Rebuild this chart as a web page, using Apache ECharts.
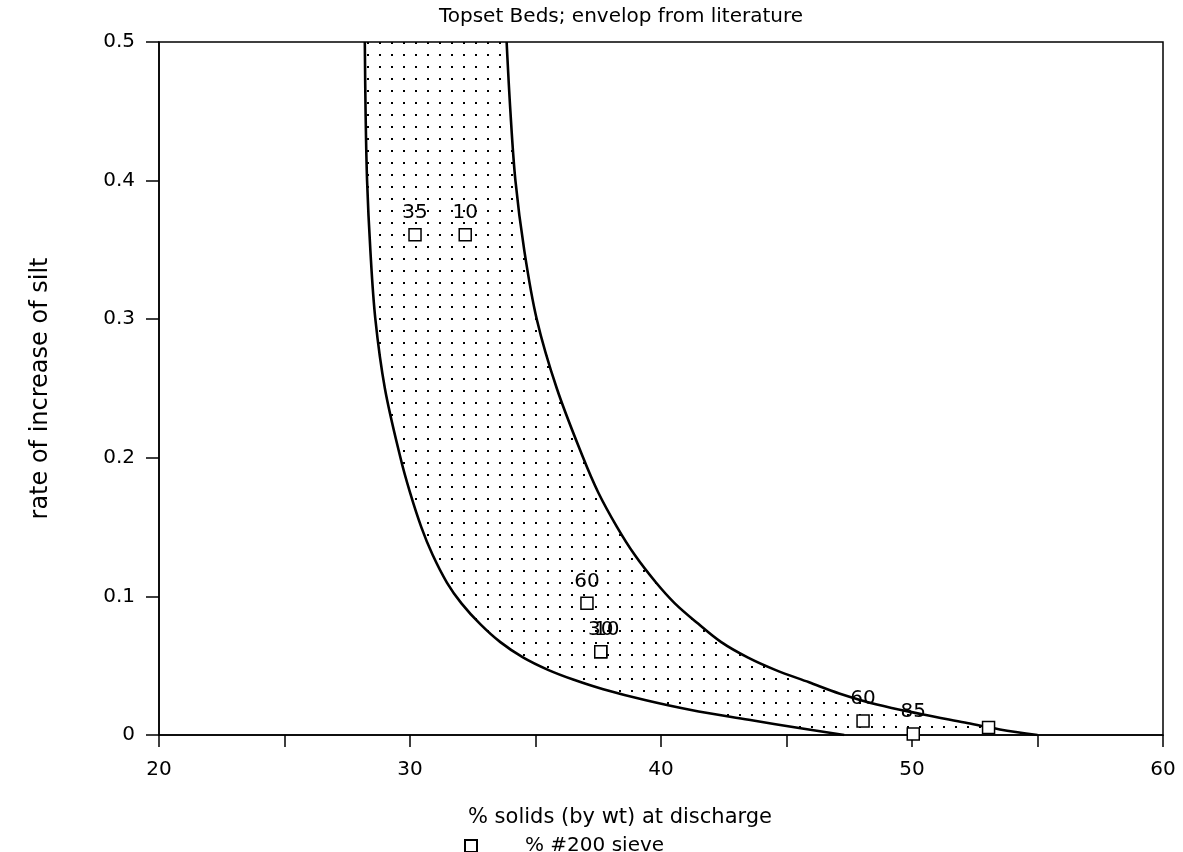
<!DOCTYPE html>
<html>
<head>
<meta charset="utf-8">
<title>Topset Beds</title>
<script src="https://cdn.jsdelivr.net/npm/echarts@6/dist/echarts.min.js"></script>
<style>
  html, body { margin: 0; padding: 0; background: #fff; }
  #chart { width: 1183px; height: 852px; }
</style>
</head>
<body>
<div id="chart"></div>
<script>
// envelope from literature (x = % solids, y = rate of increase of silt)
var lowerX = [28.2, 28.23, 28.29, 28.42, 28.62, 29.0, 29.62, 30.0, 30.45, 30.9, 31.47, 32.05, 32.8, 33.6, 34.5, 35.5, 36.5, 37.7, 39.4, 41.2, 43.5, 45.5, 47.3];
var lowerY = [0.5, 0.45, 0.40, 0.35, 0.30, 0.25, 0.20, 0.175, 0.15, 0.13, 0.11, 0.095, 0.08, 0.067, 0.056, 0.047, 0.04, 0.033, 0.025, 0.018, 0.011, 0.005, 0];
var upperX = [33.85, 34.0, 34.2, 34.55, 35.05, 35.85, 36.9, 37.5, 38.25, 38.95, 39.8, 40.55, 41.5, 42.4, 43.45, 44.55, 45.9, 47.1, 48.6, 50.4, 52.1, 53.5, 55.0];
var upperY = [0.5, 0.45, 0.40, 0.35, 0.30, 0.25, 0.20, 0.175, 0.15, 0.13, 0.11, 0.095, 0.08, 0.067, 0.056, 0.047, 0.038, 0.03, 0.022, 0.015, 0.009, 0.004, 0];

// measured points, labelled with % passing #200 sieve
var sieveX = [30.2, 32.2, 37.05, 37.6, 37.6, 48.05, 50.05, 53.05];
var sieveY = [0.361, 0.361, 0.095, 0.06, 0.06, 0.0101, 0.0008, 0.0054];
var sieveLabels = ['35', '10', '60', '30', '10', '60', '85', ''];

var FONT = 'DejaVu Sans';

function zip(xs, ys) {
  var out = [];
  for (var i = 0; i < xs.length; i++) out.push([xs[i], ys[i]]);
  return out;
}

// dotted fill tile
var dotTile = document.createElement('canvas');
dotTile.width = 12;
dotTile.height = 12;
var g = dotTile.getContext('2d');
g.fillStyle = '#000';
g.fillRect(7, 6, 2, 2);

// closed outline: down the lower curve, back up the upper one
var envelope = zip(lowerX, lowerY).concat(zip(upperX, upperY).reverse());

var sieveData = [];
for (var i = 0; i < sieveX.length; i++) {
  var item = { value: [sieveX[i], sieveY[i]], label: { formatter: sieveLabels[i] } };
  // second label on a shared point is drawn slightly shifted, as in the plot
  if (i > 0 && sieveX[i] === sieveX[i - 1] && sieveY[i] === sieveY[i - 1]) {
    item.label.offset = [6, 0];
  }
  sieveData.push(item);
}

var myChart = echarts.init(document.getElementById('chart'));
var option = {
  backgroundColor: '#fff',
  animation: false,
  title: {
    text: 'Topset Beds; envelop from literature',
    left: 621,
    textAlign: 'center',
    top: 2,
    padding: [5, 0, 5, 0],
    textStyle: { fontFamily: FONT, fontSize: 20, fontWeight: 'normal', color: '#000' }
  },
  legend: {
    data: ['% #200 sieve'],
    left: 464,
    top: 836,
    padding: 0,
    itemWidth: 12,
    itemHeight: 12,
    textStyle: { fontFamily: FONT, fontSize: 20, color: '#000', padding: [0, 0, 0, 43] }
  },
  grid: {
    left: 159,
    right: 20,
    top: 42,
    bottom: 117,
    show: true,
    borderColor: '#000',
    borderWidth: 1.5
  },
  xAxis: {
    type: 'value',
    min: 20,
    max: 60,
    interval: 5,
    name: '% solids (by wt) at discharge',
    nameLocation: 'middle',
    nameGap: 72,
    nameTextStyle: { fontFamily: FONT, fontSize: 21, color: '#000', padding: [0, 82, 0, 0] },
    axisLine: { onZero: false, lineStyle: { color: '#000', width: 1.5 } },
    axisTick: { length: 12, lineStyle: { color: '#000', width: 1.5 } },
    axisLabel: {
      margin: 25,
      fontFamily: FONT,
      fontSize: 20,
      color: '#000',
      formatter: function (v) { return v % 10 === 0 ? String(v) : ''; }
    },
    splitLine: { show: false }
  },
  yAxis: {
    type: 'value',
    min: 0,
    max: 0.5,
    interval: 0.1,
    name: 'rate of increase of silt',
    nameLocation: 'middle',
    nameGap: 106,
    nameTextStyle: { fontFamily: FONT, fontSize: 24, color: '#000' },
    axisLine: { onZero: false, lineStyle: { color: '#000', width: 1.5 } },
    axisTick: { length: 13, lineStyle: { color: '#000', width: 1.5 } },
    axisLabel: { margin: 24, fontFamily: FONT, fontSize: 20, color: '#000' },
    splitLine: { show: false }
  },
  series: [
    {
      name: 'envelope',
      type: 'custom',
      clip: true,
      silent: true,
      z: 1,
      data: envelope,
      renderItem: function (params, api) {
        if (params.dataIndex !== 0) return null;
        var pts = envelope.map(function (p) { return api.coord(p); });
        return {
          type: 'polygon',
          shape: { points: pts },
          style: { fill: { image: dotTile, repeat: 'repeat' }, stroke: null }
        };
      }
    },
    {
      name: 'lower',
      type: 'line',
      data: zip(lowerX, lowerY),
      showSymbol: false,
      symbol: 'none',
      smooth: 0.35,
      z: 2,
      lineStyle: { color: '#000', width: 2.6 }
    },
    {
      name: 'upper',
      type: 'line',
      data: zip(upperX, upperY),
      showSymbol: false,
      symbol: 'none',
      smooth: 0.35,
      z: 2,
      lineStyle: { color: '#000', width: 2.6 }
    },
    {
      name: '% #200 sieve',
      type: 'scatter',
      data: sieveData,
      symbol: 'rect',
      symbolSize: 12,
      z: 3,
      itemStyle: { color: '#fff', borderColor: '#000', borderWidth: 1.5, opacity: 1 },
      label: {
        show: true,
        position: 'top',
        distance: 5,
        fontFamily: FONT,
        fontSize: 20,
        color: '#000'
      }
    }
  ]
};
myChart.setOption(option);
</script>
</body>
</html>
